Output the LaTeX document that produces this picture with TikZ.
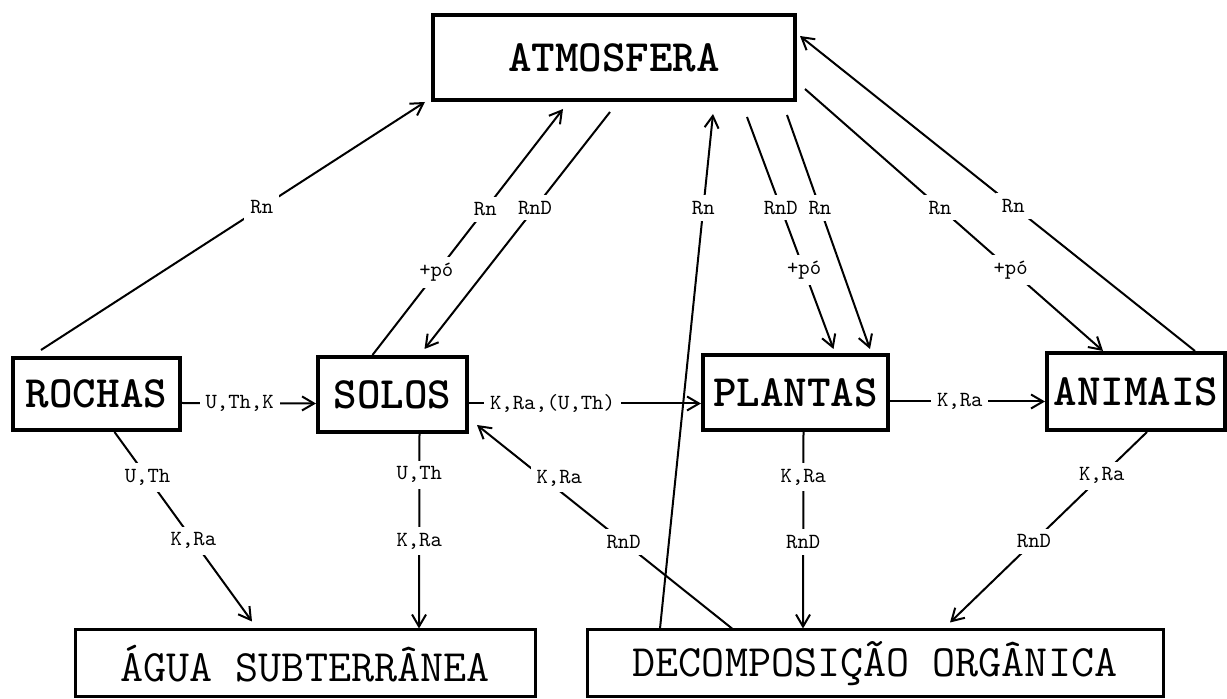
\documentclass[tikz,border=0pt]{standalone}
\usepackage{fontspec}
\usetikzlibrary{arrows.meta}
\tikzset{ cx/.style = { rectangle
                       , draw
                       , line width   = 2pt
                       , inner sep    = 0pt
                       , font         = \ttfamily\bfseries\fontsize{22.4}{23}\selectfont
                       },
            cb/.style = { rectangle
            , draw = black
            , line width = 1.5pt
            , inner sep  = 0pt
            , font       = \ttfamily\fontsize{22.4}{23}\selectfont
            },
            lb/.style = { fill = white
            , inner sep = 3pt
            , font = \ttfamily\fontsize{10.8}{11}\selectfont
            }
          }

\begin{document}
\begin{tikzpicture}
    [x=0.5pt, y=-0.5pt,
    line width=1pt,
    >={Straight Barb[length=6pt,width=7pt]}]
    \useasboundingbox (0,0) rectangle (1227,699);
    \node[cx, minimum width=181pt, minimum height=42.5pt] (atmos) at (614,57.5) {ATMOSFERA};
    \node[cx, minimum width=83.5pt, minimum height=36pt] (rochas) at (96.5,394) {ROCHAS};
    \node[cx, minimum width=74.5pt, minimum height=37.5pt] (solos) at (392.5,394.5) {SOLOS};
    \node[cx, minimum width=92.5pt, minimum height=37.5pt] (plantas) at (795.5,392.5) {PLANTAS};
    \node[cx, minimum width=89pt, minimum height=38.5pt] (animais) at (1136,391.5) {ANIMAIS};
    \node[cb, minimum width=230pt, minimum height=33.5pt] (agua) at (305,663.5) {ÁGUA SUBTERRÂNEA};
    \node[cb, minimum width=288pt, minimum height=33.5pt] (decomp) at (875,663.5) {DECOMPOSIÇÃO ORGÂNICA};
    % subindo para a atmosfera
    \draw[->] ([xshift=15pt,yshift=3pt]rochas.north west) -- ([xshift=-3pt]atmos.south west)
        node[lb, pos=0.575] {Rn};
    \draw[->] ([xshift=-10pt]solos.north) -- ([xshift=-25.5pt,yshift=-3.5pt]atmos.south)
        node[lb, pos=0.335] {+pó} node[lb, pos=0.592] {Rn};
    \draw[->] ([xshift=-2pt,yshift=-5pt]atmos.south) -- ([xshift=16pt,yshift=3pt]solos.north)
        node[lb, pos=0.404] {RnD};
    \draw[->] ([xshift=-107.5pt]decomp.north) -- ([xshift=49.5pt,yshift=-6pt]atmos.south)
        node[lb, pos=0.817] {Rn};
    \draw[->] ([xshift=-25pt,yshift=-7.5pt]atmos.south east) -- ([xshift=19pt,yshift=2pt]plantas.north)
        node[lb, pos=0.391] {RnD} node[lb, pos=0.66] {+pó};
    \draw[->] ([xshift=-5pt,yshift=-6.5pt]atmos.south east) -- ([xshift=-10pt,yshift=2pt]plantas.north east)
        node[lb, pos=0.397] {Rn};
    \draw[->] ([xshift=4pt,yshift=6.5pt]atmos.south east) -- ([xshift=29pt]animais.north west)
        node[lb, pos=0.453] {Rn} node[lb, pos=0.69] {+pó};
    \draw[->] ([xshift=-16pt]animais.north east) -- ([xshift=1.5pt,yshift=-11.5pt]atmos.north east)
        node[lb, pos=0.46] {Rn};
    % na horizontal
    \draw[->] ([yshift=-4.5pt]rochas.east) -- ([yshift=-4.5pt]solos.west)
        node[lb, pos=0.43] {U,Th,K};
    \draw[->] ([yshift=-4.5pt]solos.east) -- ([yshift=-5.5pt]plantas.west)
        node[lb, pos=0.36] {K,Ra,(U,Th)};
    \draw[->] ([yshift=-4.5pt]plantas.east) -- ([yshift=-5pt]animais.west)
        node[lb, pos=0.45] {K,Ra};
    % descendo
    \draw[->] ([xshift=9pt]rochas.south) -- ([xshift=-26.5pt,yshift=3.5pt]agua.north)
        node[lb, pos=0.24] {U,Th} node[lb, pos=0.574] {K,Ra};
    \draw[->] ([xshift=13.5pt]solos.south) -- ([xshift=57pt]agua.north)
        node[lb, pos=0.21] {U,Th} node[lb, pos=0.55] {K,Ra};
    \draw[->] ([xshift=-71.5pt]decomp.north) -- ([xshift=4pt,yshift=4.5pt]solos.south east)
        node[lb, pos=0.425] {RnD} node[lb, pos=0.74, xshift=8pt] {K,Ra};
    \draw[->] ([xshift=4pt]plantas.south) -- ([xshift=-36pt]decomp.north)
        node[lb, pos=0.23] {K,Ra} node[lb, pos=0.56] {RnD};
    \draw[->] ([xshift=5.5pt]animais.south) -- ([xshift=37.5pt,yshift=3pt]decomp.north)
        node[lb, pos=0.23] {K,Ra} node[lb, pos=0.574] {RnD};
\end{tikzpicture}
\end{document}
